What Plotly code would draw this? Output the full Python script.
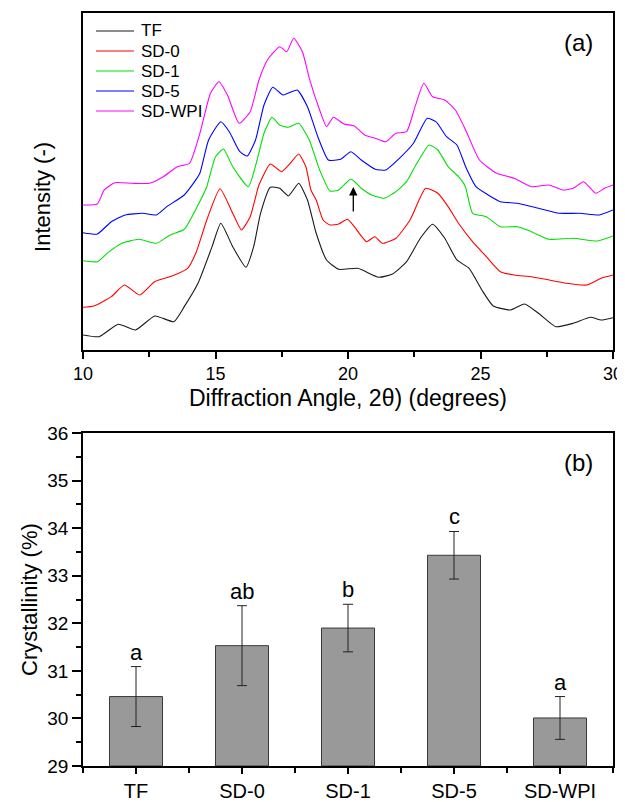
import plotly.graph_objects as go

# ---------------- Panel (a): XRD patterns (intensity in arbitrary, offset units) -------------
tf_angle = [10.0, 10.61, 11.33, 11.98, 12.71, 13.43, 13.82, 14.34, 14.87, 15.20, 15.65, 16.15, 16.44, 16.70,
            17.07, 17.42, 17.75, 18.14, 18.47, 18.80, 19.19, 19.65, 20.37, 21.16, 21.68, 22.21, 22.73, 23.19,
            23.65, 24.11, 24.57, 25.09, 25.48, 26.14, 26.66, 27.19, 27.84, 28.50, 29.15, 29.55, 30.0]
tf_int = [15, 13.3, 25.7, 20, 34, 28.3, 43.3, 66.7, 103.3, 126.7, 103.3, 82.7, 103.3, 136.7,
          162.7, 161.7, 154, 166.7, 150, 116.7, 90, 80.7, 81.7, 72.7, 76, 88.3, 111.7, 125.7,
          111.7, 90, 81.7, 58.3, 44, 40, 46, 36.7, 23.3, 26.7, 32.7, 30, 32.3]

sd0_angle = [10.0, 10.41, 11.07, 11.56, 12.14, 12.70, 13.36, 13.95, 14.28, 14.67, 15.17, 15.65, 15.98, 16.31,
             16.64, 17.07, 17.49, 17.82, 18.14, 18.41, 18.60, 18.80, 19.06, 19.32, 19.65, 19.98, 20.24, 20.70,
             21.02, 21.29, 21.81, 22.34, 22.93, 23.39, 23.78, 24.17, 24.70, 25.22, 25.75, 26.27, 26.92, 27.45,
             28.24, 29.02, 29.55, 30.0]
sd0_int = [42.7, 44, 53.3, 65, 55, 68.3, 74, 81.7, 98.3, 130, 161.2, 136.7, 120, 133.3,
           165, 186, 178.3, 186.7, 196, 183.3, 160, 150, 130, 125, 126, 130.7, 123.3, 108.3,
           113.3, 106.7, 111.7, 130, 161.7, 156.7, 143.3, 126.7, 108.3, 93.3, 78.3, 75, 73.3, 70.7,
           66.7, 65, 71.7, 75]

sd1_angle = [10.0, 10.54, 10.94, 11.46, 12.11, 12.77, 13.29, 13.82, 14.34, 14.67, 15.00, 15.30, 15.65, 16.24,
             16.57, 16.83, 17.13, 17.42, 17.75, 18.14, 18.54, 18.93, 19.32, 19.65, 20.11, 20.50, 20.89, 21.36,
             21.81, 22.21, 22.60, 23.06, 23.39, 23.78, 24.17, 24.43, 24.70, 25.22, 25.75, 26.40, 26.92, 27.58,
             28.50, 29.42, 30.0]
sd1_int = [89.3, 88.3, 97.3, 106.7, 110.7, 106.7, 115, 120.7, 145, 163.3, 193.3, 201, 183.3, 163.3,
           190, 216.7, 232.7, 225, 222.7, 226.7, 210, 180, 159, 160, 171, 161.7, 155, 151.7,
           158.3, 168.3, 186.7, 205, 200, 183.3, 173.3, 163.3, 136.7, 133.3, 123.3, 123.3, 118.3, 110.7,
           111.7, 109, 114]

sd5_angle = [10.0, 10.54, 11.07, 11.59, 12.25, 12.77, 13.16, 13.82, 14.21, 14.41, 14.74, 15.20, 15.52, 15.92,
             16.20, 16.51, 16.83, 17.16, 17.55, 18.08, 18.47, 18.86, 19.26, 19.72, 20.11, 20.50, 21.03, 21.42,
             21.94, 22.47, 22.99, 23.32, 23.72, 24.11, 24.44, 24.83, 25.29, 25.75, 26.40, 27.19, 27.97, 28.76,
             29.48, 30.0]
sd5_int = [117.3, 116, 128.3, 135, 136.7, 135, 143.3, 155, 168.3, 176.7, 210, 228.3, 218.3, 198.3,
           194, 210, 245, 262.7, 255, 260, 243.3, 213.3, 190, 190.7, 198.3, 190, 180.7, 180,
           191.7, 206.7, 231.7, 228.3, 213.3, 205, 183.3, 163.3, 155, 148.3, 146.7, 141.7, 136.7, 136.7,
           135, 140]

wpi_angle = [10.0, 10.54, 10.80, 11.20, 11.85, 12.51, 13.03, 13.56, 14.02, 14.41, 14.81, 15.13, 15.45, 15.89,
             16.31, 16.64, 16.96, 17.42, 17.69, 17.95, 18.28, 18.54, 18.93, 19.19, 19.45, 19.85, 20.24, 20.63,
             21.03, 21.42, 21.81, 22.21, 22.53, 22.86, 23.19, 23.65, 24.05, 24.44, 24.96, 25.61, 26.27, 26.92,
             27.58, 28.10, 28.50, 28.89, 29.35, 29.68, 30.0]
wpi_int = [145, 146, 160, 167.3, 166.7, 166.7, 173.3, 183.3, 186.7, 216.7, 256.7, 268.3, 255, 226.7,
           238.3, 270, 290, 303.3, 298.3, 311.7, 298.3, 271.7, 240, 223.3, 232.7, 226, 224, 215,
           211.7, 208.3, 216.7, 218.3, 243.3, 266.7, 253.3, 250, 240, 220, 190, 176.7, 171.7, 163.3,
           165, 160, 161.7, 168.3, 156.7, 161.7, 165]

series_names = ["TF", "SD-0", "SD-1", "SD-5", "SD-WPI"]
series_colors = ["#1a1a1a", "#ff0000", "#00e000", "#0000ff", "#ff00ff"]
series_x = [tf_angle, sd0_angle, sd1_angle, sd5_angle, wpi_angle]
series_y = [tf_int, sd0_int, sd1_int, sd5_int, wpi_int]

# arrow marking the 20 degree reflection (tail, tip) on SD-1
arrow_angle = 20.2
arrow_tail = 137
arrow_tip = 163

# ---------------- Panel (b): crystallinity -------------
categories = ["TF", "SD-0", "SD-1", "SD-5", "SD-WPI"]
crystallinity = [30.46, 31.53, 31.90, 33.43, 30.01]
crys_err = [0.63, 0.84, 0.50, 0.50, 0.45]
letters = ["a", "ab", "b", "c", "a"]

FONT = "Liberation Sans, Arial, sans-serif"
BODY = 8  # default page margin of the html body

fig = go.Figure()

for name, col, xs, ys in zip(series_names, series_colors, series_x, series_y):
    fig.add_trace(go.Scatter(x=xs, y=ys, mode="lines", name=name,
                             line=dict(color=col, width=1.1, shape="spline", smoothing=0.5),
                             showlegend=False, xaxis="x", yaxis="y"))

xpos = list(range(len(categories)))
fig.add_trace(go.Bar(x=xpos, y=[v - 29 for v in crystallinity], base=29, width=0.5,
                     marker=dict(color="#999999", line=dict(color="#3a3a3a", width=1)),
                     error_y=dict(type="data", array=crys_err, color="#222222", thickness=1, width=5),
                     showlegend=False, xaxis="x2", yaxis="y2"))

tick_minor = dict(ticks="outside", ticklen=5, tickwidth=1.5, tickcolor="black")
frame = dict(showline=True, linecolor="black", linewidth=1.6, mirror=True,
             showgrid=False, zeroline=False, automargin=False)

fig.update_layout(
    width=625 - BODY, height=802 - BODY,
    margin=dict(l=83 - BODY, r=12, t=13 - BODY, b=36, autoexpand=False),
    paper_bgcolor="white", plot_bgcolor="white",
    font=dict(family=FONT, color="black"),
    showlegend=False,
    xaxis=dict(domain=[0, 1], anchor="y", range=[10, 30], tickmode="linear", tick0=10, dtick=5,
               ticks="outside", ticklen=7, tickwidth=1.5, tickcolor="black",
               minor=dict(dtick=2.5, tick0=10, **tick_minor),
               tickfont=dict(family=FONT, size=18, color="black"), **frame),
    yaxis=dict(domain=[0.5525, 1], anchor="x", range=[0, 337], showticklabels=False, ticks="", **frame),
    xaxis2=dict(domain=[0, 1], anchor="y2", range=[-0.5, 4.5], tickmode="array",
                tickvals=xpos, ticktext=categories,
                ticks="outside", ticklen=6, tickwidth=1.5, tickcolor="black",
                minor=dict(tick0=-0.5, dtick=1, **tick_minor),
                tickfont=dict(family=FONT, size=20, color="black"), **frame),
    yaxis2=dict(domain=[0, 0.4422], anchor="x2", range=[29, 36], tickmode="linear", tick0=29, dtick=1,
                ticks="outside", ticklen=9, tickwidth=1.5, tickcolor="black",
                minor=dict(dtick=0.5, **tick_minor),
                tickfont=dict(family=FONT, size=19, color="black"), **frame),
)

def note(text, x, y, xref, yref, size, angle=0):
    return dict(text=text, x=x, y=y, xref=xref, yref=yref, xanchor="center", yanchor="middle",
                showarrow=False, textangle=angle, font=dict(size=size, family=FONT, color="black"))

annotations = [
    note("(a)", 0.934, 0.911, "x domain", "y domain", 24),
    note("(b)", 0.934, 0.91, "x2 domain", "y2 domain", 24),
    note("Intensity (-)", -0.0755, 0.7557, "paper", "paper", 22, -90),
    note("Crystallinity (%)", -0.1, 0.2205, "paper", "paper", 22, -90),
    note("Diffraction Angle, 2θ) (degrees)", 0.5, 0.4887, "paper", "paper", 23),
    dict(x=arrow_angle, y=arrow_tip, ax=arrow_angle, ay=arrow_tail, xref="x", yref="y",
         axref="x", ayref="y", showarrow=True, arrowhead=2, arrowsize=1.3, arrowwidth=1.3,
         arrowcolor="black", text=""),
]
for xi, v, e, lab in zip(xpos, crystallinity, crys_err, letters):
    annotations.append(dict(text=lab, x=xi, y=v + e, xref="x2", yref="y2", xanchor="center",
                            yanchor="bottom", showarrow=False,
                            font=dict(size=22, family=FONT, color="black")))

# legend box (drawn with shapes + text so the row spacing matches the original)
leg_x0, leg_x1, leg_tx = 0.0245, 0.0962, 0.1057
leg_top, leg_step = 0.9466, 0.0594
shapes = []
for i, (name, col) in enumerate(zip(series_names, series_colors)):
    yy = leg_top - i * leg_step
    shapes.append(dict(type="line", xref="x domain", yref="y domain", x0=leg_x0, x1=leg_x1,
                       y0=yy, y1=yy, line=dict(color=col, width=1.1)))
    annotations.append(dict(text=name, x=leg_tx, y=yy, xref="x domain", yref="y domain",
                            xanchor="left", yanchor="middle", showarrow=False,
                            font=dict(size=17, family=FONT, color="black")))

fig.update_layout(annotations=annotations, shapes=shapes)

fig.write_html("out.html")
